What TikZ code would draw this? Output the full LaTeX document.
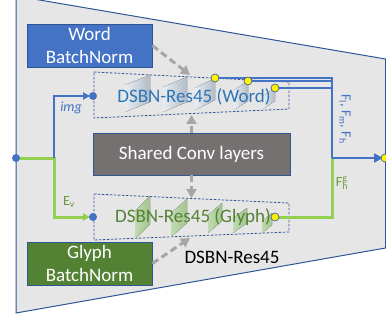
\documentclass[tikz,border=0pt]{standalone}
\usepackage{fontspec}
\setmainfont{Carlito}
\usetikzlibrary{arrows.meta,positioning,calc}
\definecolor{bgGray}{HTML}{E7E6E6}
\definecolor{accBlue}{HTML}{4472C4}
\definecolor{lineBlue}{HTML}{2F5597}
\definecolor{txtBlue}{HTML}{2E75B6}
\definecolor{accGreen}{HTML}{548235}
\definecolor{labGreen}{HTML}{6A9A40}
\definecolor{lightGreen}{HTML}{92D050}
\definecolor{convGray}{HTML}{767171}
\definecolor{dashGray}{HTML}{A6A6A6}
\definecolor{planeLight}{HTML}{E6ECF2}
\definecolor{planeDark}{HTML}{B2BBC6}
\definecolor{gplaneLight}{HTML}{C2DAB2}
\definecolor{gplaneDark}{HTML}{A2C48E}
\tikzset{normbox/.style={draw=lineBlue,line width=0.8pt,text=white,minimum width=125pt,minimum height=43pt,inner sep=0pt,align=center,font=\fontsize{19}{23}\selectfont},
  dsbnbox/.style={draw=lineBlue,line width=0.8pt,dash pattern=on 2.5pt off 1.5pt},
  reuse/.style={draw=dashGray,line width=3pt,dash pattern=on 7pt off 4pt,-{Triangle[length=9pt,width=10pt]}},
  blueline/.style={draw=accBlue,line width=2.5pt},
  greenline/.style={draw=lightGreen,line width=3pt},
  ydot/.style={fill=yellow,draw=lineBlue,line width=0.6pt},
  bigtext/.style={font=\fontsize{19}{23}\selectfont},
  smalltext/.style={font=\fontsize{14}{16}\selectfont}}

\begin{document}
\begin{tikzpicture}[x=1pt,y=-1pt]
		\useasboundingbox (0,0) rectangle (386,321);
		\draw[lineBlue,line width=1pt,fill=bgGray] (16,-4) -- (385.5,59) -- (385.5,248) -- (16,313) -- cycle;
		% norm boxes and shared layers
		\node[normbox,fill=accBlue] (wordbn) at (89.5,45.5) {Word\\BatchNorm};
		\node[normbox,fill=accGreen] (glyphbn) at (89.5,263.5) {Glyph\\BatchNorm};
		\node[normbox,fill=convGray,minimum width=197pt,minimum height=42pt] (shared) at (191.5,154) {Shared Conv layers};
		% dsbn branches
		\draw[dsbnbox] (94,72) -- (289,82) -- (289,109) -- (94,118) -- cycle;
		\draw[dsbnbox] (94,194) -- (289,203) -- (289,232) -- (94,240) -- cycle;
		\foreach \px/\py/\pw/\ph/\ps in {125/85/25/27/10,163/87/24/25/10,195/88/20/22/10,234/90/14/20/9,263/96/12/13/8}
			\fill[left color=planeLight,right color=planeDark] (\px,\py) -- ++(\pw,-\ps) -- ++(0,\ph) -- ++(-\pw,\ps) -- cycle;
		\foreach \px/\py/\pw/\ph/\ps in {135/211/15/28/15,171/213/16/24/14,208/215/14/18/12,233/218/14/15/10,262/221/10/12/8}
			\fill[left color=gplaneLight,right color=gplaneDark] (\px,\py) -- ++(\pw,-\ps) -- ++(0,\ph) -- ++(-\pw,\ps) -- cycle;
		\node[bigtext,text=txtBlue] (wordres) at (194,97) {DSBN-Res45 (Word)};
		\node[bigtext,text=accGreen] (glyphres) at (193,217) {DSBN-Res45 (Glyph)};
		\node[bigtext] (reslbl) at (232,257) {DSBN-Res45};
		% points
		\coordinate (src) at (16,158);
		\coordinate (split) at (54,158);
		\coordinate (win) at (93,96);
		\coordinate (gin) at (93,217);
		\coordinate (wo1) at (215,78);
		\coordinate (wo2) at (248,81);
		\coordinate (wo3) at (275,88);
		\coordinate (go) at (275,217);
		\coordinate (merge) at (332,158);
		\coordinate (dst) at (385,158);
		\coordinate (wtip) at (190,75);
		\coordinate (wbot) at (191.5,115);
		\coordinate (gtop) at (191.5,198);
		\coordinate (gbot) at (190,238);
		% reuse arrows
		\draw[reuse] (wordbn.east) -- (wtip);
		\draw[reuse] (shared.north) -- (wbot);
		\draw[reuse] (shared.south) -- (gtop);
		\draw[reuse] (glyphbn.east) -- (gbot);
		% data flow
		\draw[greenline,-{Triangle[length=7pt,width=7pt]},shorten >=3pt] (src) -- (split) |- (gin);
		\draw[blueline,-{Triangle[length=7pt,width=7pt]},shorten >=3pt] (split) |- (win);
		\draw[greenline] (go) -| (merge);
		\draw[blueline,line width=2pt] (wo2) -- (wo2 -| merge);
		\draw[blueline,line width=2pt] (wo3) -- (wo3 -| merge);
		\draw[blueline] (wo1) -| (merge);
		\draw[blueline,-{Triangle[length=9pt,width=9pt]},shorten >=2pt] (merge) -- (dst);
		\fill[accBlue] (src) circle (4pt);
		\fill[accBlue] (win) circle (4pt);
		\fill[accBlue] (gin) circle (4pt);
		\foreach \pt in {wo1,wo2,wo3,go,dst}
			\filldraw[ydot] (\pt) circle (4pt);
		% labels
		\node[smalltext,text=accBlue] (imglbl) at (71,108) {\itshape img};
		\node[smalltext,text=labGreen] (evlbl) at (69,202) {E\textsubscript{v}};
		\node[smalltext,text=labGreen] (fglbl) at (342,183) {F\rlap{\textsuperscript{g}}\textsubscript{h}};
		\node[smalltext,text=accBlue,rotate=-90] (flbl) at (345,119) {F\textsubscript{l}, F\textsubscript{m}, F\textsubscript{h}};
		\end{tikzpicture}
\end{document}
